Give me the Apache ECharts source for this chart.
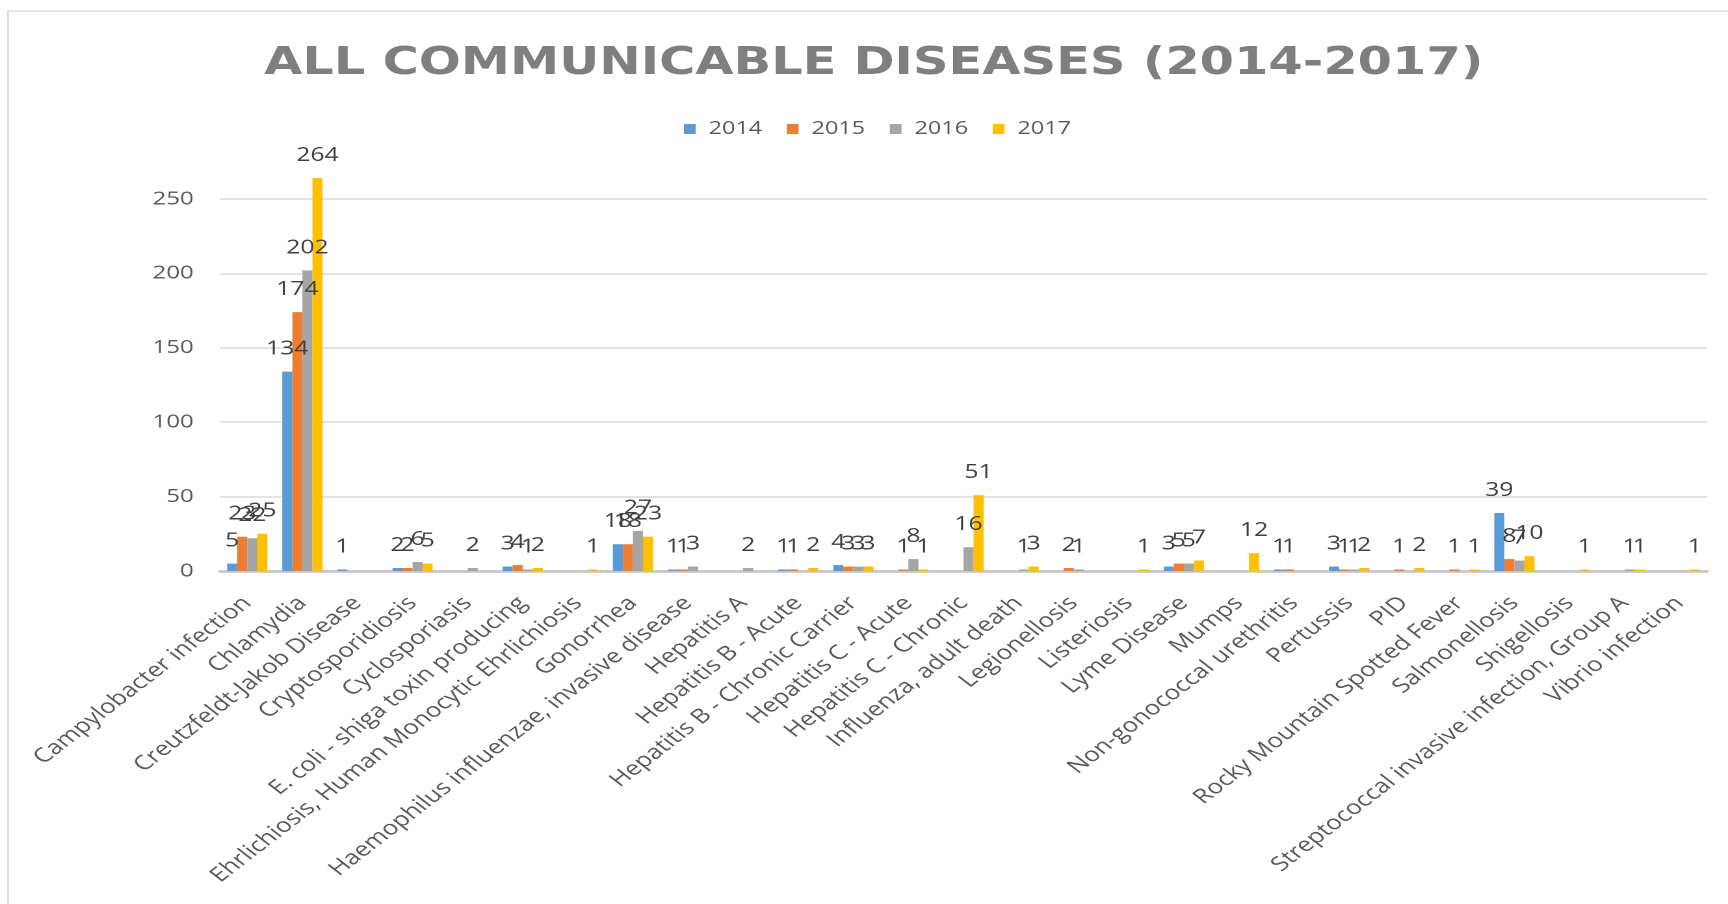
<!DOCTYPE html>
<html>
<head>
<meta charset="utf-8">
<script src="https://cdn.jsdelivr.net/npm/echarts@6/dist/echarts.min.js"></script>
<style>
html, body { margin: 0; padding: 0; background: #ffffff; overflow: hidden; width: 1728px; height: 904px; }
#chart { position: absolute; left: 0; top: 0; width: 1329px; height: 904px; transform: scaleX(1.30023); transform-origin: 0 0; }
</style>
</head>
<body>
<div id="chart"></div>
<script>
var categories = [
  'Campylobacter infection', 'Chlamydia', 'Creutzfeldt-Jakob Disease', 'Cryptosporidiosis',
  'Cyclosporiasis', 'E. coli - shiga toxin producing', 'Ehrlichiosis, Human Monocytic Ehrlichiosis',
  'Gonorrhea', 'Haemophilus influenzae, invasive disease', 'Hepatitis A', 'Hepatitis B - Acute',
  'Hepatitis B - Chronic Carrier', 'Hepatitis C - Acute', 'Hepatitis C - Chronic',
  'Influenza, adult death', 'Legionellosis', 'Listeriosis', 'Lyme Disease', 'Mumps',
  'Non-gonococcal urethritis', 'Pertussis', 'PID', 'Rocky Mountain Spotted Fever',
  'Salmonellosis', 'Shigellosis', 'Streptococcal invasive infection, Group A', 'Vibrio infection'
];
var seriesNames = ['2014', '2015', '2016', '2017'];
var values2014 = [5, 134, 1, 2, null, 3, null, 18, 1, null, 1, 4, null, null, null, null, null, 3, null, 1, 3, null, null, 39, null, null, null];
var values2015 = [23, 174, null, 2, null, 4, null, 18, 1, null, 1, 3, 1, null, null, 2, null, 5, null, 1, 1, 1, 1, 8, null, null, null];
var values2016 = [22, 202, null, 6, 2, 1, null, 27, 3, 2, null, 3, 8, 16, 1, 1, null, 5, null, null, 1, null, null, 7, null, 1, null];
var values2017 = [25, 264, null, 5, null, 2, 1, 23, null, null, 2, 3, 1, 51, 3, null, 1, 7, 12, null, 2, 2, 1, 10, 1, 1, 1];
var yTicks = { min: 0, max: 250, interval: 50 };
var colors = ['#5B9BD5', '#ED7D31', '#A5A5A5', '#FFC000'];

var allValues = [values2014, values2015, values2016, values2017];
var FONT = '"Open Sans", "Noto Sans", sans-serif';

var chart = echarts.init(document.getElementById('chart'), null, { renderer: 'canvas', devicePixelRatio: 2 });

var series = seriesNames.map(function (name, i) {
  return {
    name: name,
    type: 'bar',
    data: allValues[i],
    clip: false,
    barGap: '0%',
    barCategoryGap: '27%',
    itemStyle: { color: colors[i] },
    label: {
      show: true,
      position: 'top',
      distance: 13,
      color: '#404040',
      fontSize: 19,
      fontFamily: FONT
    }
  };
});

chart.setOption({
  backgroundColor: '#ffffff',
  animation: false,
  color: colors,
  title: {
    text: 'ALL COMMUNICABLE DISEASES (2014-2017)',
    left: 672,
    top: 45,
    textAlign: 'center',
    padding: 0,
    textStyle: {
      color: '#7f7f7f',
      fontSize: 38,
      fontWeight: 'bold',
      fontFamily: '"DejaVu Sans", sans-serif'
    }
  },
  legend: {
    data: seriesNames,
    left: 526,
    top: 120,
    padding: 0,
    itemWidth: 9,
    itemHeight: 10,
    itemGap: 19,
    icon: 'rect',
    textStyle: {
      color: '#595959',
      fontSize: 18,
      fontFamily: FONT,
      padding: [0, 0, 0, 5]
    }
  },
  graphic: [{
    type: 'rect',
    silent: true,
    z: -10,
    shape: { x: 6.2, y: 11, width: 1500, height: 1200 },
    style: { fill: 'none', stroke: '#d9d9d9', lineWidth: 1.3 }
  }],
  grid: {
    left: 169,
    right: 16,
    top: 199,
    bottom: 333,
    containLabel: false
  },
  xAxis: {
    type: 'category',
    data: categories,
    axisTick: { show: false },
    axisLine: { show: true, lineStyle: { color: '#c4c4c4', width: 2.5 } },
    axisLabel: {
      interval: 0,
      rotate: 45,
      margin: 29,
      color: '#595959',
      fontSize: 20,
      fontFamily: FONT
    }
  },
  yAxis: {
    type: 'value',
    min: yTicks.min,
    max: yTicks.max,
    interval: yTicks.interval,
    axisLine: { show: false },
    axisTick: { show: false },
    splitLine: { lineStyle: { color: '#d9d9d9', width: 1.5 } },
    axisLabel: {
      margin: 20,
      color: '#595959',
      fontSize: 18.5,
      fontFamily: FONT
    }
  },
  series: series
});
</script>
</body>
</html>
